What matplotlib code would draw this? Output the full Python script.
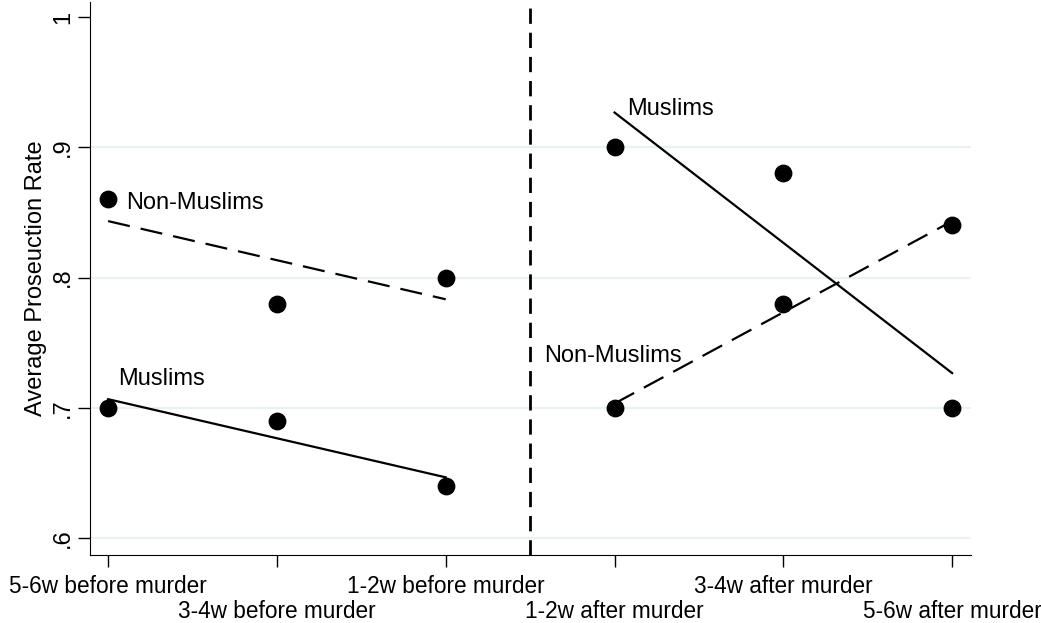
import numpy as np
import matplotlib
matplotlib.use('Agg')
from matplotlib import pyplot as plt

plt.rcParams['font.family'] = ['Liberation Sans', 'DejaVu Sans']

# periods: 1..3 before the murder, 4..6 after
periods = ['5-6w before murder', '3-4w before murder', '1-2w before murder',
           '1-2w after murder', '3-4w after murder', '5-6w after murder']
x_pos = [1, 2, 3, 4, 5, 6]
x_before = [1, 2, 3]
x_after = [4, 5, 6]
muslims_before = [0.70, 0.69, 0.64]
nonmuslims_before = [0.86, 0.78, 0.80]
muslims_after = [0.90, 0.88, 0.70]
nonmuslims_after = [0.70, 0.78, 0.84]
yticks = [0.6, 0.7, 0.8, 0.9, 1.0]
ytick_labels = ['.6', '.7', '.8', '.9', '1']

FS = 17


def fit_line(ax, x, y, ls):
    # linear fit as drawn by stata's lfit
    b, a = np.polyfit(x, y, 1)
    xs = np.array([x[0], x[-1]])
    ax.plot(xs, a + b * xs, color='black', lw=1.6, ls=ls, zorder=2)


fig = plt.figure(figsize=(10.41, 6.23), dpi=100)
ax = fig.add_axes([0.0865, 0.109, 0.846, 0.888])

for yv in yticks[:-1]:
    ax.axhline(yv, color='#eaf1f3', lw=1.5, zorder=0)

for x, y in [(x_before, muslims_before), (x_before, nonmuslims_before),
             (x_after, muslims_after), (x_after, nonmuslims_after)]:
    ax.scatter(x, y, s=140, color='black', zorder=3)

fit_line(ax, x_before, muslims_before, '-')
fit_line(ax, x_after, muslims_after, '-')
fit_line(ax, x_before, nonmuslims_before, (0, (10, 5)))
fit_line(ax, x_after, nonmuslims_after, (0, (10, 5)))

ax.axvline(3.5, color='black', lw=2, ls=(0, (5.5, 3.2)), zorder=1)

ax.text(1.107, 0.857, 'Non-Muslims', fontsize=FS, va='center', ha='left')
ax.text(1.06, 0.7225, 'Muslims', fontsize=FS, va='center', ha='left')
ax.text(4.077, 0.929, 'Muslims', fontsize=FS, va='center', ha='left')
ax.text(3.58, 0.740, 'Non-Muslims', fontsize=FS, va='center', ha='left')

ax.set_xlim(0.893, 6.11)
ax.set_ylim(0.587, 1.0116)

ax.set_yticks(yticks)
ax.set_yticklabels(ytick_labels, rotation=90, va='center', fontsize=FS)
ax.set_ylabel('Average Proseuction Rate', fontsize=FS, labelpad=4)

# stata staggers the labels: odd ones on the first row, even ones below
ax.set_xticks(x_pos[0::2])
ax.set_xticklabels(periods[0::2], fontsize=16.3)
ax.set_xticks(x_pos[1::2], minor=True)
ax.set_xticklabels(periods[1::2], minor=True, fontsize=16.3)
ax.tick_params(axis='both', which='both', length=8.5, width=1, color='black')
ax.tick_params(axis='x', which='major', pad=6)
ax.tick_params(axis='x', which='minor', pad=24)
ax.tick_params(axis='y', pad=3)

ax.spines['top'].set_visible(False)
ax.spines['right'].set_visible(False)

fig.savefig('out.png', dpi=100)
